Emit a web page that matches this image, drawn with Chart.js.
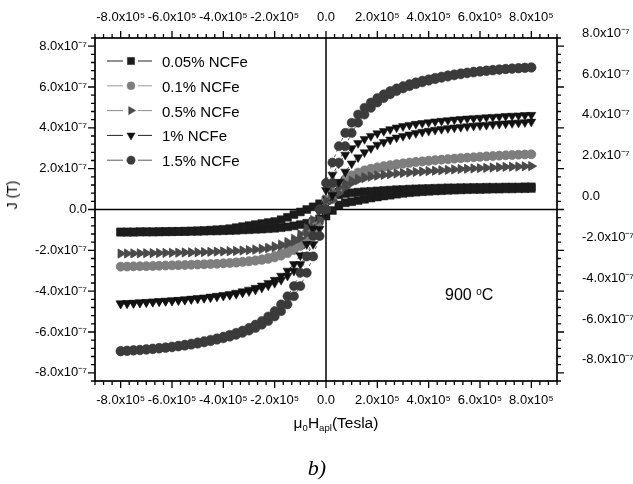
<!DOCTYPE html>
<html>
<head>
<meta charset="utf-8">
<script src="https://cdn.jsdelivr.net/npm/chart.js@4.4.1/dist/chart.umd.min.js"></script>
<style>
html,body{margin:0;padding:0;background:#fff;}
#wrap{position:relative;width:633px;height:484px;overflow:hidden;background:#fff;}
#c{position:absolute;left:0;top:0;}
.t{position:absolute;font-family:"Liberation Sans",Arial,sans-serif;color:#000;white-space:nowrap;line-height:1;}
.t sub{font-size:0.62em;position:relative;top:0.28em;vertical-align:baseline;line-height:0;}
.t sup{font-size:0.62em;position:relative;top:-0.55em;vertical-align:baseline;line-height:0;}
.leg{left:162px;font-size:15px;transform:translateY(-50%);}
</style>
</head>
<body>
<div id="wrap">
  <canvas id="c" width="633" height="484"></canvas>
  <div class="t" style="left:12px;top:195px;font-size:14px;transform:translate(-50%,-50%) rotate(-90deg);">J (T)</div>
  <div class="t" style="left:336px;top:423px;font-size:15.5px;transform:translate(-50%,-50%);">&mu;<sub>0</sub>H<sub>apl</sub>(Tesla)</div>
  <div class="t" style="left:445px;top:295px;font-size:16px;transform:translateY(-50%);">900 <sup>0</sup>C</div>
  <div class="t" style="left:317px;top:468px;font-size:22px;font-family:'Liberation Serif','Times New Roman',serif;font-style:italic;transform:translate(-50%,-50%);">b)</div>
  <div id="legend"></div>
</div>
<script>
// ---- data (field in units of 1e5 T, J in units of 1e-7 T) ----
const fieldH = [-8,-7.75,-7.5,-7.25,-7,-6.75,-6.5,-6.25,-6,-5.75,-5.5,-5.25,-5,-4.75,-4.5,-4.25,-4,-3.75,-3.5,-3.25,-3,-2.75,-2.5,-2.25,-2,-1.75,-1.5,-1.25,-1,-0.75,-0.5,-0.25,0,0.25,0.5,0.75,1,1.25,1.5,1.75,2,2.25,2.5,2.75,3,3.25,3.5,3.75,4,4.25,4.5,4.75,5,5.25,5.5,5.75,6,6.25,6.5,6.75,7,7.25,7.5,7.75,8];

const seriesNames = ['0.05% NCFe','0.1% NCFe','0.5% NCFe','1% NCFe','1.5% NCFe'];

// ascending branch (field swept from -8e5 to +8e5)
const asc005 = [-1.11,-1.11,-1.11,-1.1,-1.1,-1.1,-1.1,-1.09,-1.09,-1.08,-1.08,-1.07,-1.07,-1.06,-1.05,-1.05,-1.04,-1.03,-1.02,-1.0,-0.99,-0.97,-0.96,-0.94,-0.92,-0.89,-0.85,-0.8,-0.74,-0.67,-0.58,-0.46,-0.32,-0.05,0.22,0.33,0.38,0.44,0.5,0.56,0.61,0.66,0.7,0.75,0.79,0.82,0.85,0.87,0.89,0.91,0.92,0.94,0.95,0.96,0.97,0.98,0.98,0.99,1.0,1.0,1.01,1.01,1.02,1.02,1.03];
const asc01 = [-2.8,-2.8,-2.79,-2.78,-2.78,-2.77,-2.76,-2.75,-2.74,-2.73,-2.72,-2.71,-2.7,-2.69,-2.68,-2.66,-2.65,-2.63,-2.61,-2.58,-2.55,-2.52,-2.48,-2.43,-2.36,-2.27,-2.15,-2.0,-1.8,-1.5,-1.1,-0.6,0,0.5,0.9,1.25,1.5,1.68,1.82,1.93,2.01,2.08,2.14,2.19,2.23,2.27,2.31,2.34,2.37,2.4,2.43,2.45,2.48,2.5,2.53,2.55,2.57,2.59,2.61,2.63,2.65,2.66,2.68,2.69,2.7];
const asc05 = [-2.16,-2.16,-2.15,-2.15,-2.14,-2.14,-2.13,-2.13,-2.12,-2.12,-2.11,-2.1,-2.1,-2.09,-2.08,-2.07,-2.06,-2.05,-2.04,-2.02,-2.0,-1.98,-1.95,-1.91,-1.86,-1.79,-1.7,-1.58,-1.42,-1.2,-0.9,-0.5,0,0.45,0.8,1.08,1.28,1.42,1.52,1.59,1.64,1.68,1.72,1.75,1.78,1.8,1.83,1.85,1.87,1.89,1.91,1.93,1.95,1.97,1.99,2.0,2.02,2.03,2.05,2.06,2.08,2.09,2.1,2.11,2.12];
const asc1 = [-4.62,-4.6,-4.59,-4.57,-4.55,-4.53,-4.51,-4.49,-4.47,-4.45,-4.43,-4.4,-4.37,-4.34,-4.31,-4.27,-4.23,-4.19,-4.14,-4.08,-4.01,-3.93,-3.84,-3.73,-3.6,-3.45,-3.25,-3.0,-2.68,-2.25,-1.7,-0.95,-0.1,0.7,1.35,1.85,2.25,2.55,2.8,3.0,3.17,3.3,3.42,3.52,3.6,3.67,3.74,3.8,3.85,3.9,3.94,3.98,4.01,4.04,4.07,4.1,4.12,4.14,4.17,4.19,4.21,4.23,4.25,4.27,4.3];
const asc15 = [-6.95,-6.93,-6.91,-6.89,-6.87,-6.84,-6.81,-6.78,-6.75,-6.71,-6.67,-6.62,-6.57,-6.51,-6.45,-6.38,-6.31,-6.23,-6.14,-6.04,-5.93,-5.8,-5.64,-5.46,-5.24,-4.98,-4.65,-4.25,-3.75,-3.1,-2.3,-1.3,0,1.3,2.3,3.1,3.75,4.25,4.65,4.98,5.24,5.46,5.64,5.8,5.93,6.04,6.14,6.23,6.31,6.38,6.45,6.51,6.57,6.62,6.67,6.71,6.75,6.78,6.81,6.84,6.87,6.89,6.91,6.93,6.95];

// descending branch (field swept from +8e5 back to -8e5), listed at the same field values
const desc005 = [-1.1,-1.1,-1.1,-1.09,-1.09,-1.09,-1.08,-1.08,-1.07,-1.07,-1.06,-1.05,-1.04,-1.03,-1.01,-0.99,-0.97,-0.94,-0.89,-0.84,-0.79,-0.74,-0.69,-0.64,-0.59,-0.5,-0.38,-0.25,-0.12,0.0,0.13,0.28,0.45,0.6,0.72,0.78,0.82,0.85,0.87,0.89,0.91,0.93,0.95,0.97,0.98,1.0,1.01,1.02,1.03,1.04,1.05,1.06,1.06,1.07,1.07,1.08,1.08,1.09,1.09,1.09,1.1,1.1,1.1,1.11,1.11];
const desc01 = [-2.8,-2.79,-2.78,-2.78,-2.77,-2.76,-2.75,-2.74,-2.73,-2.72,-2.71,-2.7,-2.69,-2.68,-2.66,-2.65,-2.63,-2.61,-2.58,-2.55,-2.52,-2.48,-2.43,-2.36,-2.27,-2.15,-2.0,-1.8,-1.5,-1.1,-0.6,0,0.5,0.9,1.25,1.5,1.68,1.82,1.93,2.01,2.08,2.14,2.19,2.23,2.27,2.31,2.34,2.37,2.4,2.43,2.45,2.48,2.5,2.53,2.55,2.57,2.59,2.61,2.63,2.65,2.66,2.68,2.69,2.7,2.71];
const desc05 = [-2.16,-2.15,-2.15,-2.14,-2.14,-2.13,-2.13,-2.12,-2.12,-2.11,-2.1,-2.1,-2.09,-2.08,-2.07,-2.06,-2.05,-2.04,-2.02,-2.0,-1.98,-1.95,-1.91,-1.86,-1.79,-1.7,-1.58,-1.42,-1.2,-0.9,-0.5,0,0.45,0.8,1.08,1.28,1.42,1.52,1.59,1.64,1.68,1.72,1.75,1.78,1.8,1.83,1.85,1.87,1.89,1.91,1.93,1.95,1.97,1.99,2.0,2.02,2.03,2.05,2.06,2.08,2.09,2.1,2.11,2.12,2.13];
const desc1 = [-4.6,-4.59,-4.57,-4.55,-4.53,-4.51,-4.49,-4.47,-4.45,-4.43,-4.4,-4.37,-4.34,-4.31,-4.27,-4.23,-4.19,-4.14,-4.08,-4.01,-3.93,-3.84,-3.73,-3.6,-3.45,-3.25,-3.0,-2.68,-2.25,-1.7,-0.95,0,0.95,1.7,2.25,2.68,3.0,3.25,3.45,3.6,3.73,3.84,3.93,4.01,4.08,4.14,4.19,4.23,4.27,4.31,4.34,4.37,4.4,4.43,4.45,4.47,4.49,4.51,4.53,4.55,4.57,4.59,4.6,4.62,4.63];
const desc15 = [-6.93,-6.91,-6.89,-6.87,-6.84,-6.81,-6.78,-6.75,-6.71,-6.67,-6.62,-6.57,-6.51,-6.45,-6.38,-6.31,-6.23,-6.14,-6.04,-5.93,-5.8,-5.64,-5.46,-5.24,-4.98,-4.65,-4.25,-3.75,-3.1,-2.3,-1.3,0,1.3,2.3,3.1,3.75,4.25,4.65,4.98,5.24,5.46,5.64,5.8,5.93,6.04,6.14,6.23,6.31,6.38,6.45,6.51,6.57,6.62,6.67,6.71,6.75,6.78,6.81,6.84,6.87,6.89,6.91,6.93,6.95,6.96];

// tick labels
const xTickValues = [-8,-6,-4,-2,0,2,4,6,8];
const xTickLabels = ['-8.0x10\u2075','-6.0x10\u2075','-4.0x10\u2075','-2.0x10\u2075','0.0','2.0x10\u2075','4.0x10\u2075','6.0x10\u2075','8.0x10\u2075'];
const yTickValues = [-8,-6,-4,-2,0,2,4,6,8];
const yTickLabels = ['-8.0x10\u207B\u2077','-6.0x10\u207B\u2077','-4.0x10\u207B\u2077','-2.0x10\u207B\u2077','0.0','2.0x10\u207B\u2077','4.0x10\u207B\u2077','6.0x10\u207B\u2077','8.0x10\u207B\u2077'];

// ---- styles ----
const ascending = [asc005, asc01, asc05, asc1, asc15];
const descending = [desc005, desc01, desc05, desc1, desc15];
const styles = [
  {color:'#1c1c1c', line:'#222222', pointStyle:'rect', rotation:0, radius:5.6},
  {color:'#7e7e7e', line:'#9a9a9a', pointStyle:'circle', rotation:0, radius:4.4},
  {color:'#4a4a4a', line:'#8a8a8a', pointStyle:'triangle', rotation:90, radius:5.2},
  {color:'#121212', line:'#222222', pointStyle:'triangle', rotation:180, radius:5.2},
  {color:'#3b3b3b', line:'#5a5a5a', pointStyle:'circle', rotation:0, radius:4.6}
];
const legendY = [61, 85.8, 110.6, 135.4, 160.2];

function loopPoints(i){
  const pts = fieldH.map((h,k)=>({x:h, y:ascending[i][k]}));
  for (let k = fieldH.length-1; k >= 0; k--) pts.push({x:fieldH[k], y:descending[i][k]});
  return pts;
}

const datasets = seriesNames.map((name,i)=>({
  label: name,
  data: loopPoints(i),
  showLine: true,
  borderColor: styles[i].color,
  borderWidth: 0.8,
  borderDash: [3,3],
  pointStyle: styles[i].pointStyle,
  pointRotation: styles[i].rotation,
  pointRadius: styles[i].radius,
  pointBackgroundColor: styles[i].color,
  pointBorderColor: styles[i].color,
  pointBorderWidth: 0.5,
  order: seriesNames.length - 1 - i
}));

// legend text as HTML
const legEl = document.getElementById('legend');
seriesNames.forEach((n,i)=>{
  const d = document.createElement('div');
  d.className = 't leg';
  d.style.top = legendY[i] + 'px';
  d.textContent = n;
  legEl.appendChild(d);
});

const tickFont = {family:'"Liberation Sans", Arial, sans-serif', size:13};

const decor = {
  id:'decor',
  beforeDatasetsDraw(chart){
    const {ctx, chartArea:a, scales} = chart;
    const x0 = scales.x.getPixelForValue(0), y0 = scales.y.getPixelForValue(0);
    ctx.save();
    ctx.strokeStyle = '#000'; ctx.lineWidth = 1.5;
    ctx.beginPath();
    ctx.moveTo(x0, a.top); ctx.lineTo(x0, a.bottom);
    ctx.moveTo(a.left, y0); ctx.lineTo(a.right, y0);
    ctx.stroke();
    ctx.restore();
  },
  afterDraw(chart){
    const {ctx, chartArea:a, scales} = chart;
    ctx.save();
    ctx.strokeStyle = '#000';
    ctx.lineWidth = 1.7;
    ctx.strokeRect(a.left, a.top, a.right - a.left, a.bottom - a.top);
    ctx.lineWidth = 1.3;
    ctx.beginPath();
    for (let k = -27; k <= 27; k++) {
      const major = (Math.abs(k) % 6 === 0) && Math.abs(k) <= 24;
      const len = major ? 7 : 4;
      const px = scales.x.getPixelForValue(k/3);
      ctx.moveTo(px, a.bottom); ctx.lineTo(px, a.bottom + len);
      const pt = scales.x2.getPixelForValue(k/3);
      ctx.moveTo(pt, a.top); ctx.lineTo(pt, a.top - len);
    }
    for (let k = -21; k <= 21; k++) {
      const major = (Math.abs(k) % 5 === 0) && Math.abs(k) <= 20;
      const len = major ? 7 : 4;
      const py = scales.y.getPixelForValue(k*0.4);
      ctx.moveTo(a.left, py); ctx.lineTo(a.left - len, py);
      const pr = scales.y2.getPixelForValue(k*0.4);
      ctx.moveTo(a.right, pr); ctx.lineTo(a.right + len, pr);
    }
    ctx.stroke();
    // legend symbols
    chart.data.datasets.forEach((ds,i)=>{
      const y = legendY[i];
      ctx.strokeStyle = styles[i].line;
      ctx.lineWidth = 1;
      ctx.setLineDash([]);
      ctx.beginPath();
      ctx.moveTo(107, y); ctx.lineTo(123, y);
      ctx.moveTo(138, y); ctx.lineTo(152, y);
      ctx.stroke();
      ctx.fillStyle = styles[i].color;
      ctx.strokeStyle = styles[i].color;
      ctx.lineWidth = 0.5;
      Chart.helpers.drawPoint(ctx, {pointStyle: styles[i].pointStyle, rotation: styles[i].rotation, radius: styles[i].radius * 0.9, borderWidth: 0.5}, 131, y);
    });
    ctx.restore();
  }
};

function xScale(pos, size, pad){
  return {
    type:'linear', position:pos, min:-9, max:9, display:true,
    afterBuildTicks: s => { s.ticks = xTickValues.map(v=>({value:v})); },
    afterFit: s => { s.height = size; },
    grid:{display:false, drawTicks:false},
    border:{display:false},
    ticks:{padding:pad, font:tickFont, color:'#000', maxRotation:0, minRotation:0, autoSkip:false,
      callback: v => xTickLabels[xTickValues.indexOf(v)]}
  };
}
function yScale(pos, size, pad, off){
  return {
    type:'linear', position:pos, min:-8.4, max:8.4, display:true,
    afterBuildTicks: s => { s.ticks = yTickValues.map(v=>({value:v})); },
    afterFit: s => { s.width = size; },
    grid:{display:false, drawTicks:false},
    border:{display:false},
    ticks:{padding:pad, font:tickFont, color:'#000', autoSkip:false, labelOffset:off,
      callback: v => yTickLabels[yTickValues.indexOf(v)]}
  };
}

new Chart(document.getElementById('c'), {
  type:'scatter',
  data:{datasets},
  options:{
    responsive:false,
    animation:false,
    devicePixelRatio:1,
    layout:{padding:0},
    plugins:{legend:{display:false}, tooltip:{enabled:false}},
    scales:{
      x: xScale('bottom', 103, 12),
      x2: xScale('top', 38, 13),
      y: yScale('left', 95, 8, 0),
      y2: yScale('right', 76, 25, -13)
    }
  },
  plugins:[decor]
});
</script>
</body>
</html>
